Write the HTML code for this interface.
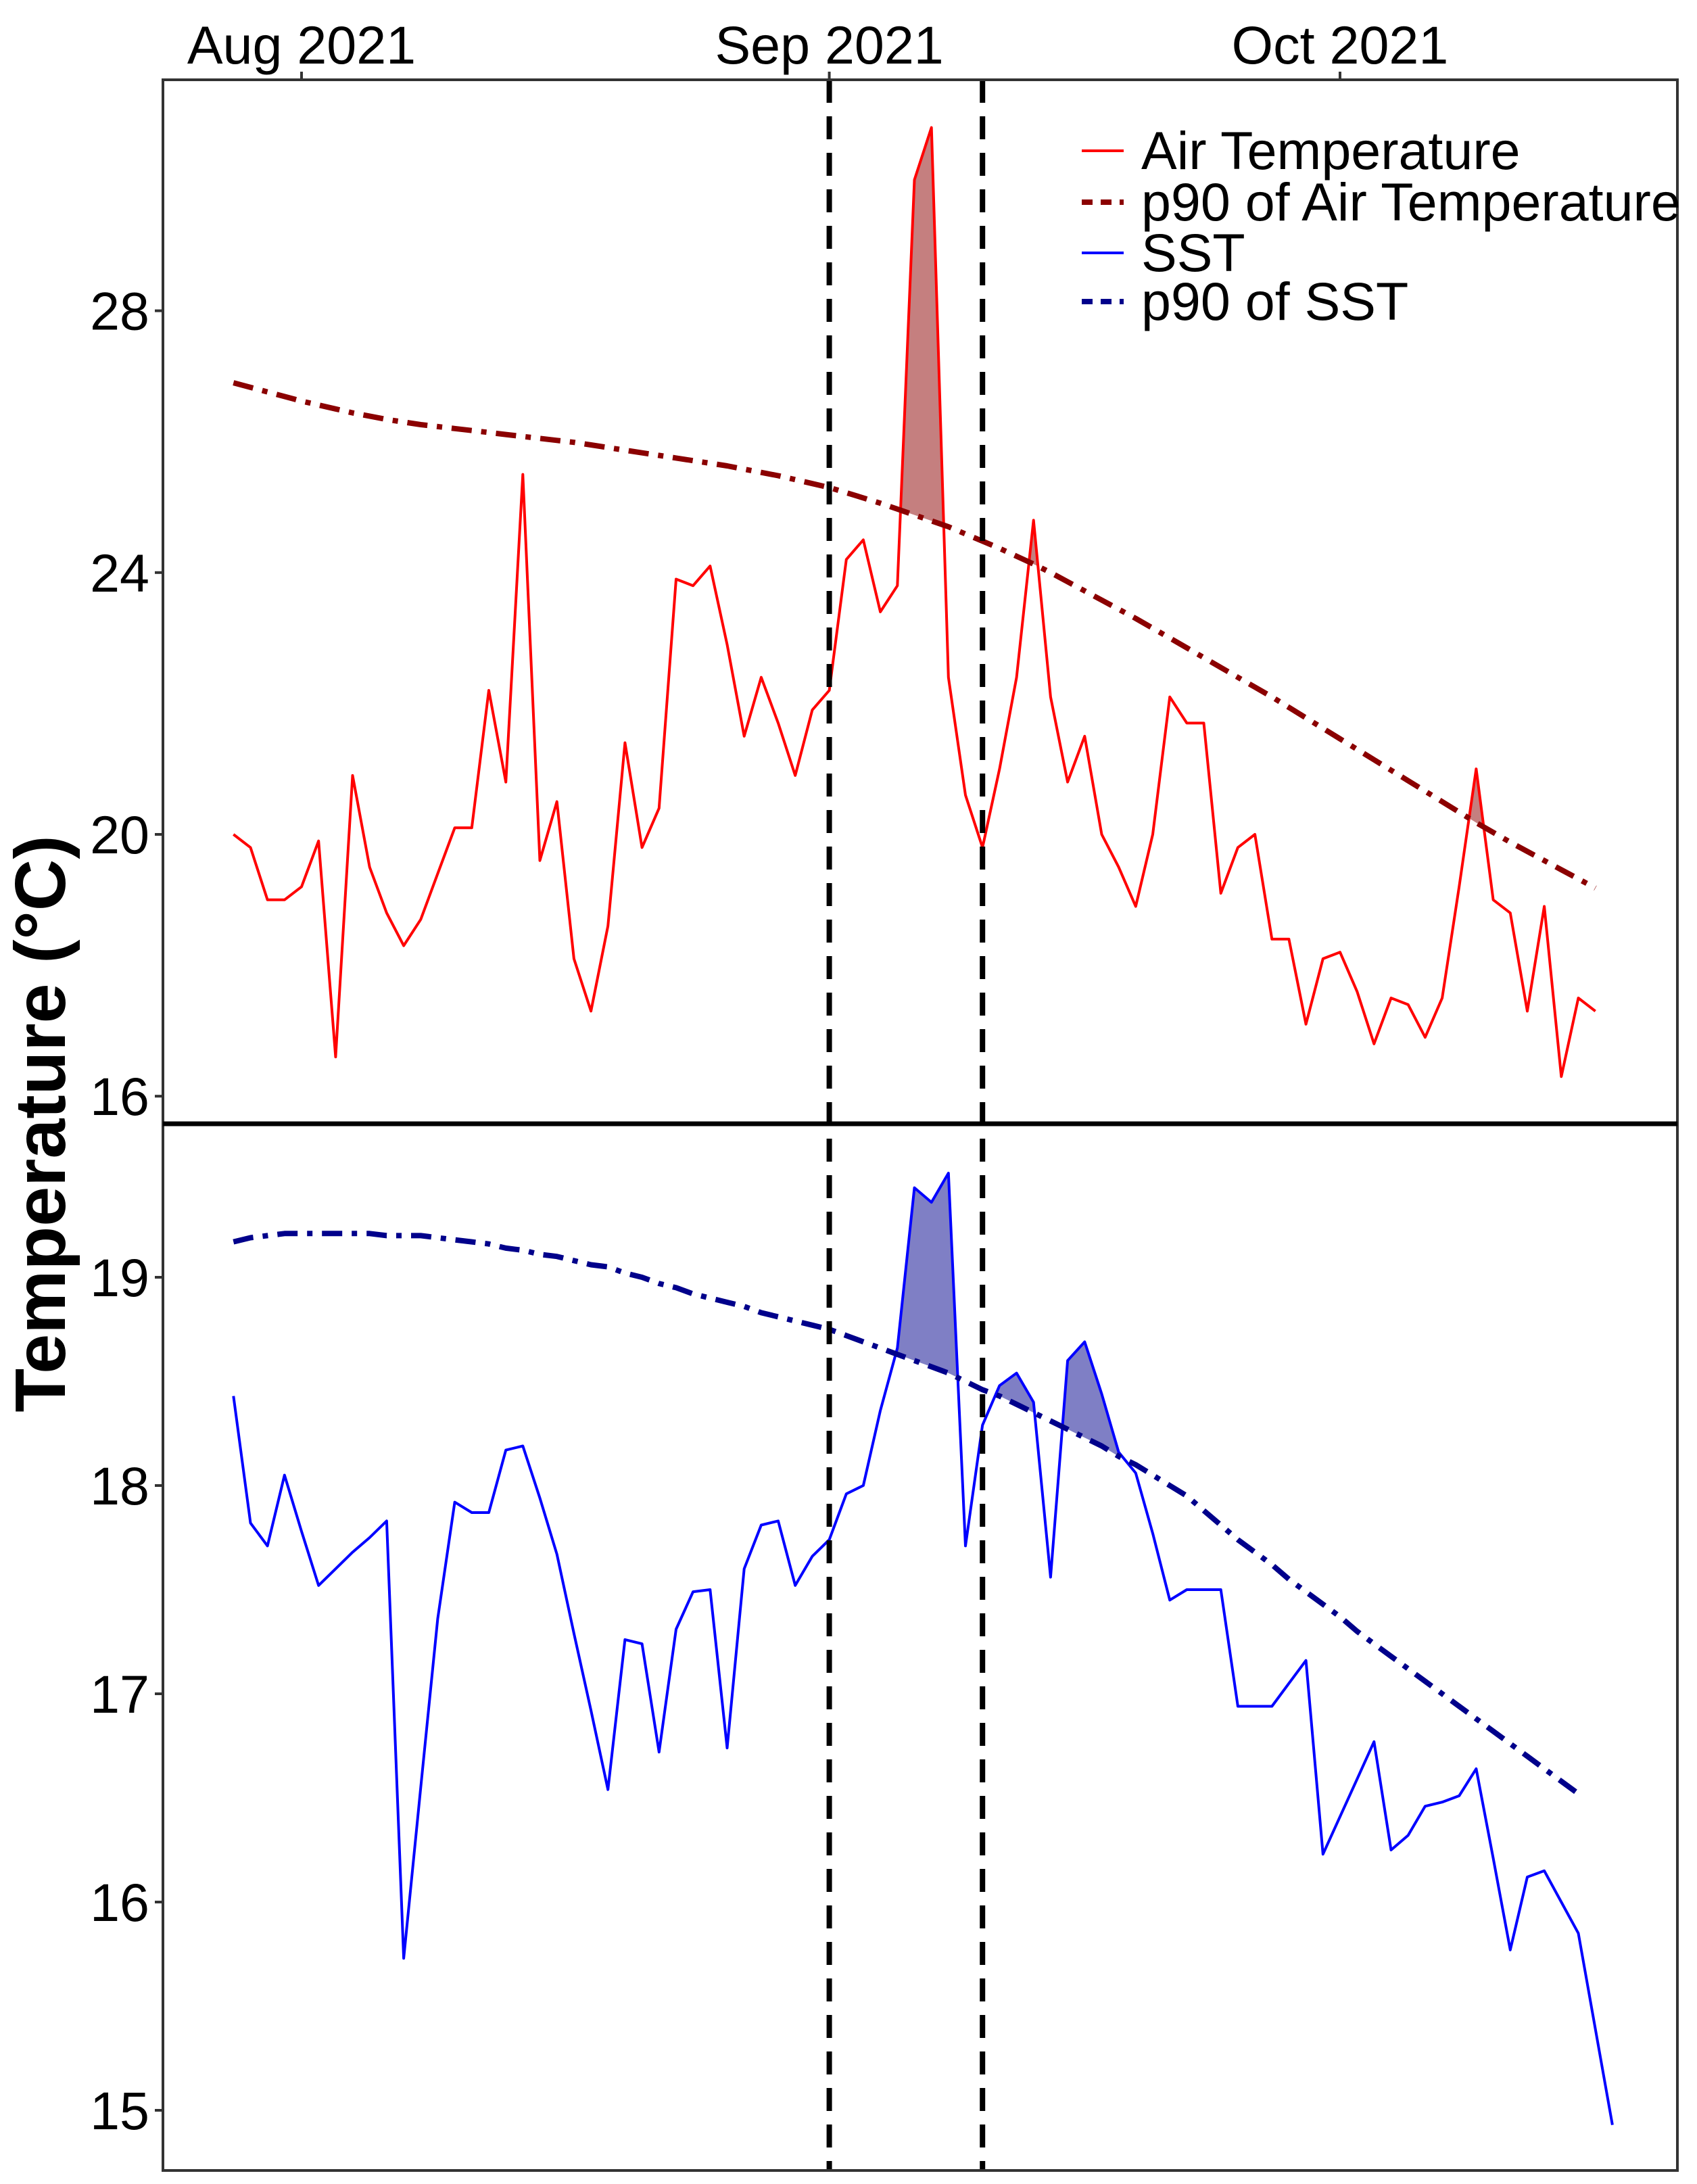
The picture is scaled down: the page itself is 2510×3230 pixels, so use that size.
<!DOCTYPE html>
<html><head><meta charset="utf-8"><style>
html,body{margin:0;padding:0;background:#fff;}
svg{display:block;font-family:"Liberation Sans",Arial,sans-serif;}
</style></head><body>
<svg id="chart" width="2510" height="3230" viewBox="0 0 2510 3230" xmlns="http://www.w3.org/2000/svg"></svg>
<script>
// ---- data ----
const airStartDay = -4; // day offset relative to Aug 1 2021
const airTemp = [20.0,19.8,19.0,19.0,19.2,19.9,16.6,20.9,19.5,18.8,18.3,18.7,19.4,20.1,20.1,22.2,20.8,25.5,19.6,20.5,18.1,17.3,18.6,21.4,19.8,20.4,23.9,23.8,24.1,22.9,21.5,22.4,21.7,20.9,21.9,22.2,24.2,24.5,23.4,23.8,30.0,30.8,22.4,20.6,19.8,21.0,22.4,24.8,22.1,20.8,21.5,20.0,19.5,18.9,20.0,22.1,21.7,21.7,19.1,19.8,20.0,18.4,18.4,17.1,18.1,18.2,17.6,16.8,17.5,17.4,16.9,17.5,19.2,21.0,19.0,18.8,17.3,18.9,16.3,17.5,17.3];
const airP90 = [26.9,26.83,26.76,26.69,26.62,26.56,26.5,26.44,26.39,26.34,26.3,26.26,26.23,26.2,26.17,26.14,26.11,26.08,26.05,26.02,25.99,25.95,25.91,25.87,25.83,25.79,25.75,25.71,25.67,25.63,25.58,25.53,25.48,25.42,25.36,25.3,25.22,25.14,25.06,24.97,24.88,24.79,24.7,24.59,24.48,24.37,24.25,24.13,24.0,23.86,23.72,23.58,23.44,23.3,23.15,23.0,22.85,22.7,22.55,22.4,22.25,22.1,21.94,21.78,21.62,21.46,21.3,21.14,20.98,20.82,20.66,20.5,20.34,20.18,20.03,19.88,19.74,19.6,19.46,19.32,19.18];
const sstStartDay = -4;
const sst = [18.43,17.82,17.71,18.05,17.78,17.52,17.6,17.68,17.75,17.83,15.73,16.55,17.36,17.92,17.87,17.87,18.17,18.19,17.94,17.67,17.29,16.92,16.54,17.26,17.24,16.72,17.31,17.49,17.5,16.74,17.6,17.81,17.83,17.52,17.66,17.74,17.96,18.0,18.36,18.66,19.43,19.36,19.5,17.71,18.29,18.48,18.54,18.4,17.56,18.6,18.69,18.44,18.16,18.06,17.77,17.45,17.5,17.5,17.5,16.94,16.94,16.94,17.05,17.16,16.23,16.41,16.59,16.77,16.25,16.32,16.46,16.48,16.51,16.64,16.21,15.77,16.12,16.15,16.0,15.85,15.39,14.93];
const sstP90 = [19.17,19.19,19.2,19.21,19.21,19.21,19.21,19.21,19.21,19.2,19.2,19.2,19.19,19.18,19.17,19.16,19.14,19.13,19.11,19.1,19.08,19.06,19.05,19.02,19.0,18.97,18.95,18.92,18.9,18.88,18.86,18.83,18.81,18.79,18.77,18.75,18.72,18.69,18.66,18.63,18.6,18.57,18.54,18.5,18.46,18.43,18.39,18.35,18.31,18.27,18.23,18.19,18.14,18.1,18.05,18.0,17.95,17.88,17.81,17.74,17.68,17.62,17.55,17.49,17.43,17.37,17.3,17.24,17.18,17.12,17.06,17.0,16.94,16.88,16.82,16.76,16.7,16.64,16.58,16.52];
const monthLabels = ["Aug 2021","Sep 2021","Oct 2021"];
const monthDays = [0,31,61];
const topTicks = [16,20,24,28];
const bottomTicks = [15,16,17,18,19];
const eventDays = [31,40];

// ---- axes ----
const L=241,R=2481,T=118,MID=1662,B=3210;
const xS = d => 446 + d*25.18;
const yTop = v => 1234 - (v-20)*96.8;
const yBot = v => 1889 + (19-v)*308;
const NS="http://www.w3.org/2000/svg";
const svg=document.getElementById('chart');
function mk(tag,attrs,parent){const e=document.createElementNS(NS,tag);for(const k in attrs)e.setAttribute(k,attrs[k]);(parent||svg).appendChild(e);return e;}

const defs=mk('defs',{});
const c1=mk('clipPath',{id:'clipTop'},defs);mk('rect',{x:L,y:T,width:R-L,height:MID-T},c1);
const c2=mk('clipPath',{id:'clipBot'},defs);mk('rect',{x:L,y:MID,width:R-L,height:B-MID},c2);

const gTop=mk('g',{'clip-path':'url(#clipTop)'});


const gBot=mk('g',{'clip-path':'url(#clipBot)'});



function shade(vals,p90,start,ys,fill,g,name){
  const n=Math.min(vals.length,p90.length);
  let seg=null;
  const polys=[];
  for(let i=0;i<n;i++){
    const d=start+i, a=vals[i]-p90[i];
    if(i>0){
      const ap=vals[i-1]-p90[i-1];
      if((ap>0)!==(a>0)){
        const t=ap/(ap-a); const dd=d-1+t; const vv=p90[i-1]+(p90[i]-p90[i-1])*t;
        if(a>0){seg={top:[[dd,vv]],bot:[[dd,vv]]};}
        else if(seg){seg.top.push([dd,vv]);polys.push(seg);seg=null;}
      }
    }
    if(a>0){ if(!seg)seg={top:[],bot:[]}; seg.top.push([d,vals[i]]); seg.bot.push([d,p90[i]]); }
  }
  if(seg)polys.push(seg);
  polys.forEach(p=>{
    const pts=p.top.concat(p.bot.slice().reverse()).map(q=>xS(q[0]).toFixed(1)+','+ys(q[1]).toFixed(1)).join(' ');
    const e=mk('polygon',{points:pts,fill:fill,stroke:'none'},g);
    
    
  });
}
function line(vals,start,ys,attrs,g,name){
  const pts=vals.map((v,i)=>xS(start+i).toFixed(1)+','+ys(v).toFixed(1)).join(' ');
  const e=mk('polyline',Object.assign({points:pts,fill:'none','stroke-linejoin':'round'},attrs),g);
  
  
}
shade(airTemp,airP90,airStartDay,yTop,'rgba(139,0,0,0.5)',gTop,'air-exceedance-area');
line(airTemp,airStartDay,yTop,{stroke:'#ff0000','stroke-width':4},gTop,'air-temperature-line');
line(airP90,airStartDay,yTop,{stroke:'#8b0000','stroke-width':8,'stroke-dasharray':'30,14,8,14'},gTop,'air-p90-line');
shade(sst,sstP90,sstStartDay,yBot,'rgba(0,0,139,0.5)',gBot,'sst-exceedance-area');
line(sst,sstStartDay,yBot,{stroke:'#0000ff','stroke-width':4},gBot,'sst-line');
line(sstP90,sstStartDay,yBot,{stroke:'#00008b','stroke-width':8,'stroke-dasharray':'30,14,8,14'},gBot,'sst-p90-line');

eventDays.forEach(d=>{
  const e=mk('line',{x1:xS(d),x2:xS(d),y1:T,y2:B,stroke:'#000','stroke-width':8,'stroke-dasharray':'34,20'});
  
  
});

let f=mk('rect',{x:L,y:T,width:R-L,height:B-T,fill:'none',stroke:'#333','stroke-width':4});


f=mk('line',{x1:L,x2:R,y1:MID,y2:MID,stroke:'#000','stroke-width':7});



monthDays.forEach((d,i)=>{
  const x=xS(d);
  const t=mk('line',{x1:x,x2:x,y1:T-12,y2:T,stroke:'#333','stroke-width':4});
  
  
  const l=mk('text',{x:x,y:T-24,'text-anchor':'middle','font-size':79,fill:'#000'});
  l.textContent=monthLabels[i];
  
  
});
function yt(ticks,ys){
  ticks.forEach(v=>{
    const y=ys(v);
    const t=mk('line',{x1:L-12,x2:L,y1:y,y2:y,stroke:'#333','stroke-width':4});
    
    
    const l=mk('text',{x:L-20,y:y+28,'text-anchor':'end','font-size':79,fill:'#000'});
    l.textContent=v;
    
    
  });
}
yt(topTicks,yTop); yt(bottomTicks,yBot);

const yl=mk('text',{x:0,y:0,transform:'translate(96,1662) rotate(-90)','text-anchor':'middle','font-size':106,'font-weight':'bold',fill:'#000'});
yl.textContent='Temperature (°C)';



const legendLabels=["Air Temperature","p90 of Air Temperature","SST","p90 of SST"];
const legendColors=["#ff0000","#8b0000","#0000ff","#00008b"];
const legendDash=[null,'16,12',null,'16,12'];
const legendY=[223,299,374,446];
const lg=mk('g',{});


legendLabels.forEach((s,i)=>{
  const y=legendY[i];
  const a={x1:1600,x2:1662,y1:y,y2:y,stroke:legendColors[i],'stroke-width':legendDash[i]?8:4};
  if(legendDash[i])a['stroke-dasharray']=legendDash[i];
  const k=mk('line',a,lg);
  
  
  const t=mk('text',{x:1688,y:y+27,'font-size':79,fill:'#000'},lg);
  t.textContent=s;
  
  
});
</script>
</body></html>
